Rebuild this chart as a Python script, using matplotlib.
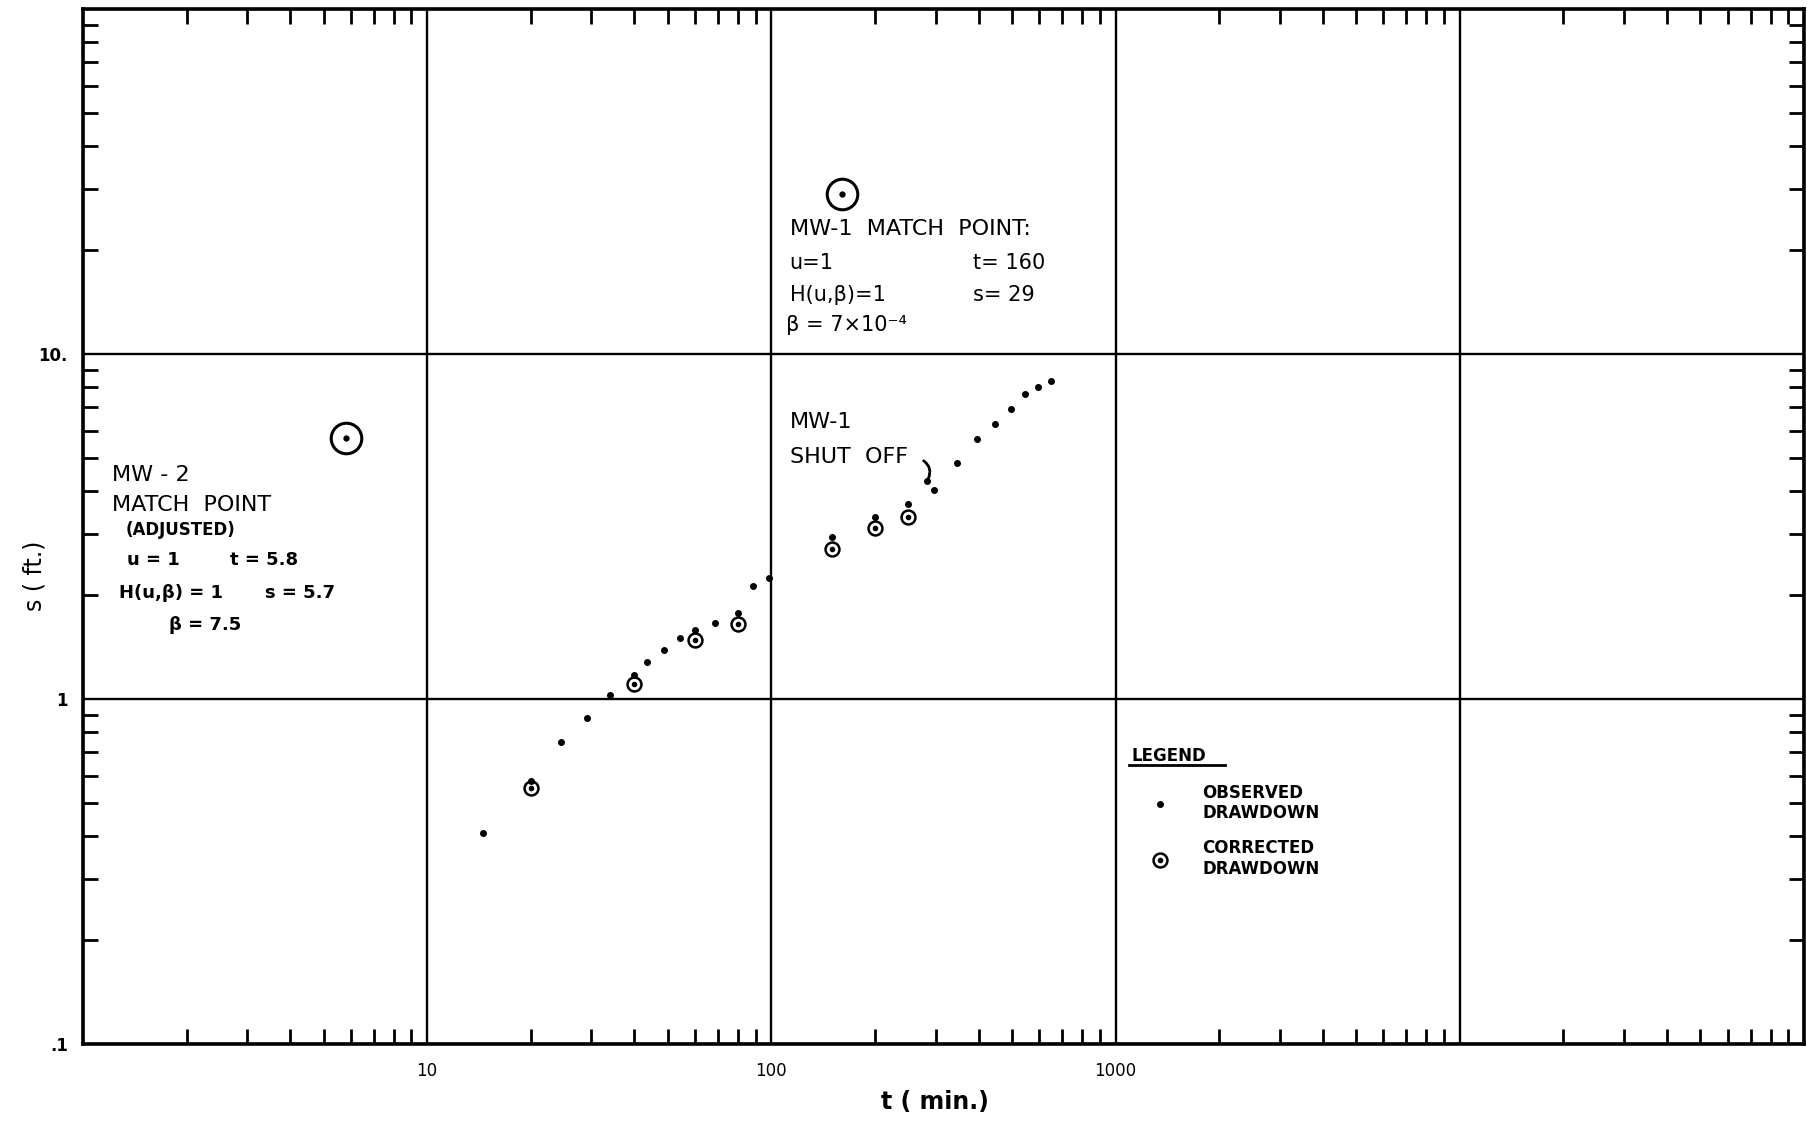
import numpy as np
import matplotlib.pyplot as plt
from matplotlib.ticker import FixedLocator, FixedFormatter, LogLocator, NullFormatter

# observed drawdown, t (min) and s (ft)
obs_t = [14.5, 20, 24.5, 29.2, 34.0, 40, 43.6, 48.9, 54.4, 60, 68.5, 80, 88.4, 98.4,
         150, 200, 250, 283, 297, 347, 397, 447, 496, 544, 595, 651]
obs_s = [0.41, 0.58, 0.75, 0.88, 1.03, 1.17, 1.28, 1.39, 1.50, 1.58, 1.665, 1.78, 2.12, 2.24,
         2.95, 3.36, 3.68, 4.27, 4.04, 4.82, 5.67, 6.28, 6.92, 7.64, 8.04, 8.36]

# corrected drawdown
corr_t = [20, 40, 60, 80, 150, 200, 250]
corr_s = [0.552, 1.107, 1.48, 1.647, 2.73, 3.13, 3.37]

# match points
mw1_t, mw1_s = 160, 29
mw2_t, mw2_s = 5.8, 5.7

# MW-1 shut off
shutoff_t, shutoff_s = 283, 4.27

x_ticks = [1, 10, 100, 1000, 10000, 100000]
x_labels = ['', '10', '100', '1000', '', '']
y_ticks = [0.1, 1, 10, 100]
y_labels = ['.1', '1', '10.', '']

fig = plt.figure(figsize=(18.07, 11.22), dpi=100)
ax = fig.add_axes([0.0459, 0.0695, 0.9524, 0.9225])
ax.set_xscale('log')
ax.set_yscale('log')
ax.set_xlim(1, 1e5)
ax.set_ylim(0.1, 100)

ax.xaxis.set_major_locator(FixedLocator(x_ticks))
ax.xaxis.set_major_formatter(FixedFormatter(x_labels))
ax.yaxis.set_major_locator(FixedLocator(y_ticks))
ax.yaxis.set_major_formatter(FixedFormatter(y_labels))
for axis in (ax.xaxis, ax.yaxis):
    axis.set_minor_locator(LogLocator(base=10, subs=np.arange(2, 10), numticks=20))
    axis.set_minor_formatter(NullFormatter())

ax.grid(which='major', color='black', linewidth=1.7)
ax.tick_params(which='major', length=0, labelsize=12)
ax.tick_params(axis='x', which='major', pad=13)
ax.tick_params(axis='y', which='major', pad=11)
for lbl in ax.get_yticklabels():
    lbl.set_fontweight('bold')
ax.tick_params(which='minor', direction='in', length=11, width=2,
               top=True, right=True, bottom=True, left=True)
for sp in ax.spines.values():
    sp.set_linewidth(2.6)

ax.set_xlabel('t ( min.)', fontsize=17, fontweight='bold')
ax.xaxis.set_label_coords(0.495, -0.044)
ax.set_ylabel('s ( ft.)', fontsize=17)
ax.yaxis.set_label_coords(-0.021, 0.452)

# data
obs, = ax.plot(obs_t, obs_s, 'o', color='black', ms=4, ls='none')
circ, = ax.plot(corr_t, corr_s, 'o', mfc='none', mec='black', mew=1.8, ms=10, ls='none')
dot, = ax.plot(corr_t, corr_s, 'o', color='black', ms=3, ls='none')

# match points
ax.plot([mw1_t, mw2_t], [mw1_s, mw2_s], 'o', mfc='none', mec='black', mew=2.2, ms=22, ls='none')
ax.plot([mw1_t, mw2_t], [mw1_s, mw2_s], 'o', color='black', ms=3.5, ls='none')

# MW-1 match point text
ax.text(113, 23.1, 'MW-1  MATCH  POINT:', fontsize=16, va='center')
ax.text(113, 18.3, 'u=1', fontsize=15, va='center')
ax.text(385, 18.3, 't= 160', fontsize=15, va='center')
ax.text(113, 14.8, 'H(u,β)=1', fontsize=15, va='center')
ax.text(385, 14.8, 's= 29', fontsize=15, va='center')
ax.text(110.5, 12.1, 'β = 7×10⁻⁴', fontsize=15, va='center')

# shut off
ax.text(113, 6.34, 'MW-1', fontsize=16, va='center')
ax.text(113, 5.04, 'SHUT  OFF', fontsize=16, va='center')
ax.annotate('', xy=(shutoff_t, shutoff_s), xytext=(-4, 16), textcoords='offset points',
            arrowprops=dict(arrowstyle='-', lw=2, color='black',
                            connectionstyle='angle3,angleA=-30,angleB=60'))

# MW-2 match point text
ax.text(1.212, 4.46, 'MW - 2', fontsize=16, va='center')
ax.text(1.212, 3.66, 'MATCH  POINT', fontsize=16, va='center')
ax.text(1.33, 3.09, '(ADJUSTED)', fontsize=12, fontweight='bold', va='center')
ax.text(1.34, 2.53, 'u = 1', fontsize=13, fontweight='bold', va='center')
ax.text(2.68, 2.53, 't = 5.8', fontsize=13, fontweight='bold', va='center')
ax.text(1.27, 2.03, 'H(u,β) = 1', fontsize=13, fontweight='bold', va='center')
ax.text(3.38, 2.03, 's = 5.7', fontsize=13, fontweight='bold', va='center')
ax.text(1.78, 1.64, 'β = 7.5', fontsize=13, fontweight='bold', va='center')

# legend
ax.text(0.609, 0.2783, 'LEGEND', transform=ax.transAxes, fontsize=12,
        fontweight='bold', va='center')
ax.plot([0.6078, 0.6636], [0.2696, 0.2696], transform=ax.transAxes,
        color='black', lw=2, clip_on=False)
ax.legend(handles=[obs, (circ, dot)],
          labels=['OBSERVED\nDRAWDOWN', 'CORRECTED\nDRAWDOWN'],
          loc='upper left', bbox_to_anchor=(0.6212, 0.2516), frameon=False,
          handlelength=1.0, handletextpad=2.0, borderpad=0, borderaxespad=0,
          labelspacing=1.0, prop={'size': 12, 'weight': 'bold'})

plt.savefig('out.png')
